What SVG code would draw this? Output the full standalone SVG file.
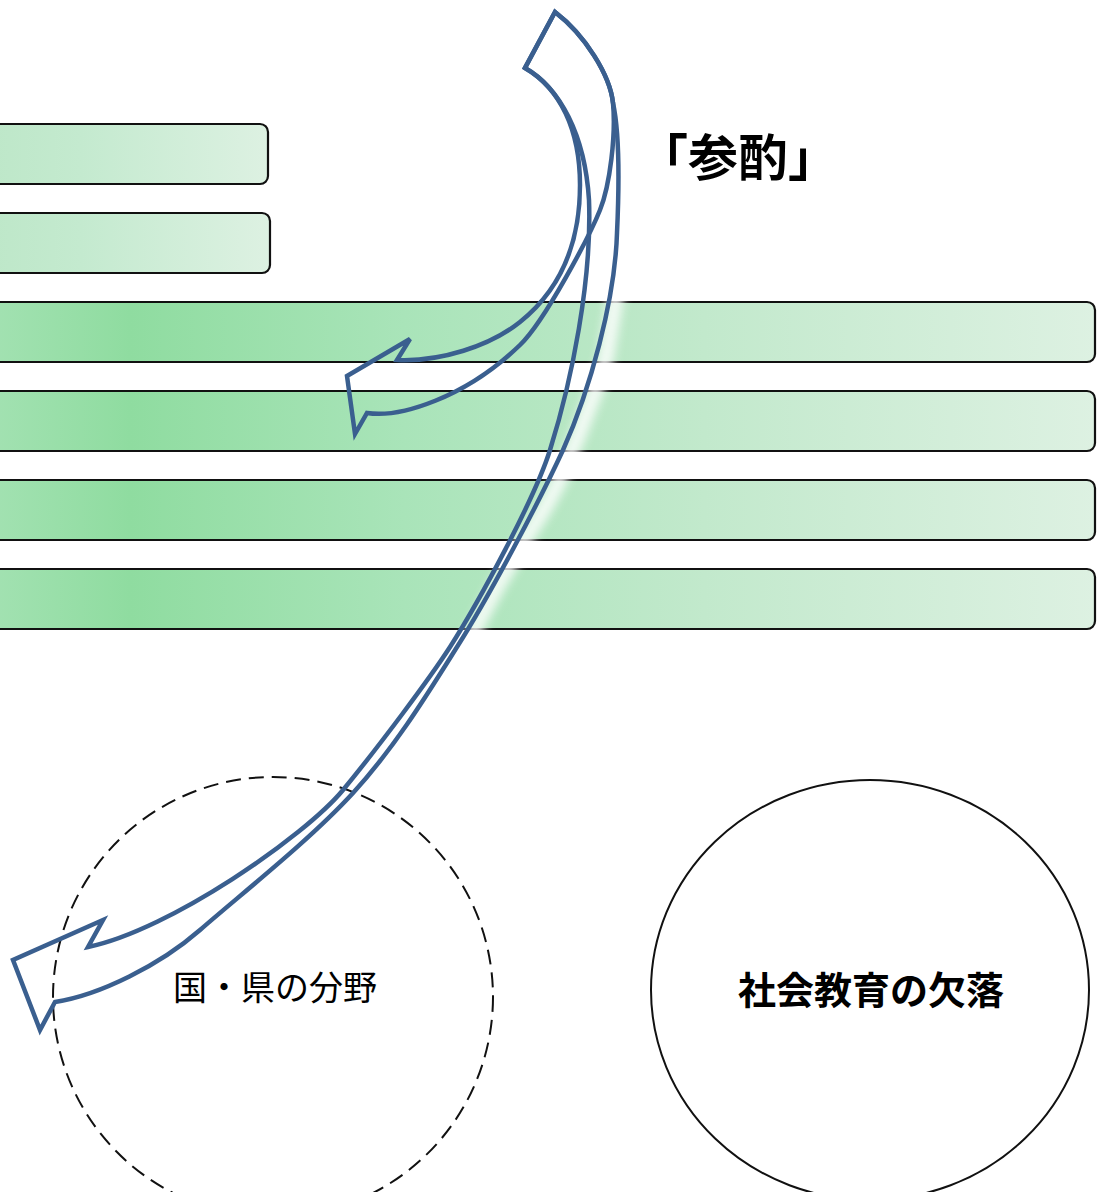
<svg xmlns="http://www.w3.org/2000/svg" width="1106" height="1192" viewBox="0 0 1106 1192">
  <style>
    .bar { stroke: #111; stroke-width: 2.2; }
    .arrow { fill: none; stroke: #3a5f8f; stroke-width: 4.5; stroke-linejoin: miter; }
    .jp { font-family: "Noto Sans CJK JP", "Noto Sans CJK SC", sans-serif; fill: #000; }
  </style>
  <defs>
    <linearGradient id="gLong" gradientUnits="userSpaceOnUse" x1="-20" y1="0" x2="1095" y2="0">
      <stop offset="0" stop-color="#a4e2b3"/>
      <stop offset="0.135" stop-color="#8fdca0"/>
      <stop offset="0.38" stop-color="#a9e4b9"/>
      <stop offset="0.65" stop-color="#c2e9cc"/>
      <stop offset="1" stop-color="#ddf1e2"/>
    </linearGradient>
    <linearGradient id="gShort" gradientUnits="userSpaceOnUse" x1="-20" y1="0" x2="270" y2="0">
      <stop offset="0" stop-color="#bde7c8"/>
      <stop offset="0.35" stop-color="#c4eacf"/>
      <stop offset="1" stop-color="#ddf1e2"/>
    </linearGradient>
    <filter id="blur" x="-50%" y="-50%" width="200%" height="200%">
      <feGaussianBlur stdDeviation="5"/>
    </filter>
  </defs>

  <rect width="1106" height="1192" fill="#ffffff"/>

  <g id="bar1"><rect class="bar" x="-20" y="124" width="288" height="60" rx="8" fill="url(#gShort)"/></g>
  <g id="bar2"><rect class="bar" x="-20" y="213" width="290" height="60" rx="8" fill="url(#gShort)"/></g>
  <g id="bar3"><rect class="bar" x="-20" y="302" width="1115" height="60" rx="8" fill="url(#gLong)"/></g>
  <g id="bar4"><rect class="bar" x="-20" y="391" width="1115" height="60" rx="8" fill="url(#gLong)"/></g>
  <g id="bar5"><rect class="bar" x="-20" y="480" width="1115" height="60" rx="8" fill="url(#gLong)"/></g>
  <g id="bar6"><rect class="bar" x="-20" y="569" width="1115" height="60" rx="8" fill="url(#gLong)"/></g>

  <g id="label-sanshaku">
    <text class="jp" x="738" y="176" font-size="50" font-weight="bold" text-anchor="middle">「参酌」</text>
  </g>

  <g id="circle-kuniken">
    <circle cx="273" cy="997" r="220" fill="none" stroke="#111" stroke-width="2" stroke-dasharray="15 8"/>
    <text class="jp" x="275" y="1000" font-size="34" text-anchor="middle">国・県の分野</text>
  </g>

  <g id="circle-shakai">
    <ellipse cx="870" cy="990" rx="219" ry="210" fill="none" stroke="#111" stroke-width="2"/>
    <text class="jp" x="871" y="1004" font-size="38" font-weight="bold" text-anchor="middle">社会教育の欠落</text>
  </g>

  <g id="connectors">
    <path d="M617,290 C612,320 606,357 606,357 C600,380 594,395 589,407 C582,425 578,437 572,450 C566,465 562,475 556,487 C550,498 545,508 539,517 C533,527 528,535 522,543 C514,557 507,570 499,583 C490,600 478,622 466,647" fill="none" stroke="#ffffff" stroke-width="16" opacity="0.8" filter="url(#blur)"/>
    <path class="arrow" d="M555,12 L525,68 C560,88 580,130 580,185 C580,245 560,290 520,322 C490,346 440,362 397,360 L410,339 L347,376 L355,434 L367,413 C400,418 465,398 520,345 C545,321 590,235 600,210 C610,185 616,135 613,103 C610,75 585,35 555,12 Z"/>
    <path class="arrow" d="M555,12 L525,68 C560,88 585,135 589,200 C592,280 572,380 550,450 C535,498 480,600 450,647 C430,678 380,745 343,790 C305,836 170,930 88,947 L103,920 L13,960 L40,1030 L55,1002 C100,995 160,965 200,930 C240,895 310,840 353,793 C396,746 430,690 457,647 C490,595 540,500 563,450 C590,390 615,300 617,233 C619,190 620,135 613,103 C610,75 585,35 555,12 Z"/>
  </g>
</svg>
